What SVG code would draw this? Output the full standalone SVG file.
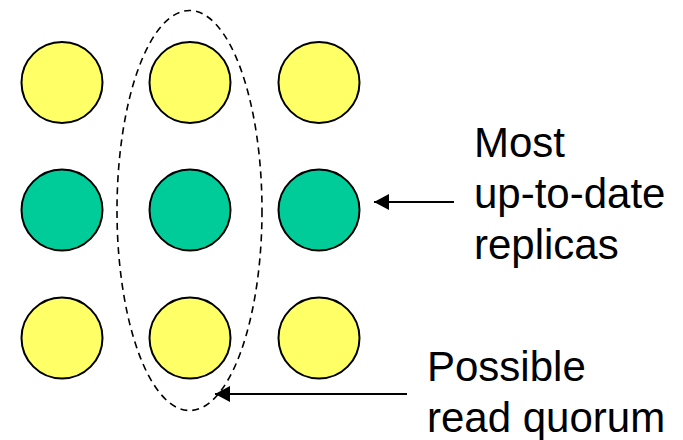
<svg xmlns="http://www.w3.org/2000/svg" width="683" height="440" viewBox="0 0 683 440">
<style>
.y{fill:#FFFF66;stroke:#000;stroke-width:2}
.g{fill:#00CC99;stroke:#000;stroke-width:2}
.t{font-family:"Liberation Sans",Arial,sans-serif;font-size:42px;fill:#000}
.c{stroke:#000;stroke-width:2;fill:none}
</style>
<defs>
<marker id="ah" markerWidth="16" markerHeight="16" viewBox="0 0 16 16" refX="15" refY="8" orient="auto" markerUnits="userSpaceOnUse">
<path d="M0,0 L15,8 L0,16 Z" fill="#000"/>
</marker>
</defs>
<rect width="683" height="440" fill="#fff"/>
<g id="r1c1"><circle class="y" cx="62" cy="82.5" r="40.5"/></g>
<g id="r1c2"><circle class="y" cx="190" cy="82.5" r="40.5"/></g>
<g id="r1c3"><circle class="y" cx="319" cy="82.5" r="40.5"/></g>
<g id="r2c1"><circle class="g" cx="62" cy="210" r="40.5"/></g>
<g id="r2c2"><circle class="g" cx="190" cy="210" r="40.5"/></g>
<g id="r2c3"><circle class="g" cx="319" cy="210" r="40.5"/></g>
<g id="r3c1"><circle class="y" cx="62" cy="338" r="40.5"/></g>
<g id="r3c2"><circle class="y" cx="190" cy="338" r="40.5"/></g>
<g id="r3c3"><circle class="y" cx="319" cy="338" r="40.5"/></g>
<g id="quorum"><ellipse cx="189.5" cy="210.5" rx="72.5" ry="200" fill="none" stroke="#000" stroke-width="1.6" stroke-dasharray="7,5"/></g>
<g id="connectors">
<line class="c" x1="454" y1="202" x2="374" y2="202" marker-end="url(#ah)"/>
<line class="c" x1="407" y1="394" x2="215" y2="394" marker-end="url(#ah)"/>
</g>
<g id="label-uptodate">
<text class="t" x="474" y="157">Most</text>
<text class="t" x="474" y="208">up-to-date</text>
<text class="t" x="474" y="259">replicas</text>
</g>
<g id="label-quorum">
<text class="t" x="427" y="381">Possible</text>
<text class="t" x="427" y="432">read quorum</text>
</g>
</svg>
